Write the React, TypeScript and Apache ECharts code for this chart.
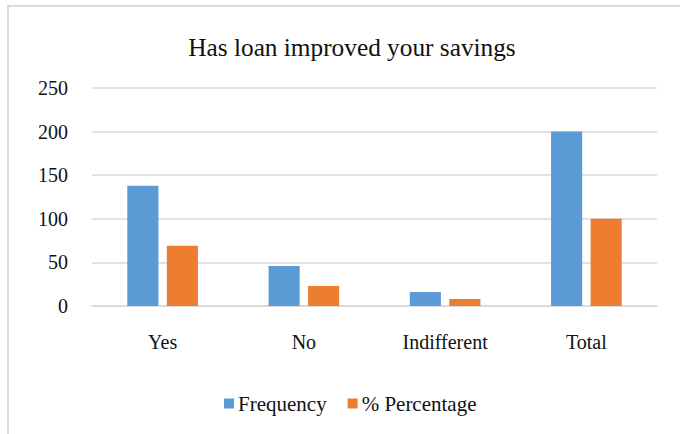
import React, { useEffect, useRef } from "react";
import * as echarts from "echarts";

const categories = ["Yes", "No", "Indifferent", "Total"];
const frequency = [138, 46, 16, 200];
const percentage = [69, 23, 8, 100];
const yTicks = { min: 0, max: 250, interval: 50 };

const FONT = "'Liberation Serif', 'Times New Roman', serif";

export default function App() {
  const ref = useRef<HTMLDivElement>(null);
  useEffect(() => {
    if (!ref.current) return;
    const chart = echarts.init(ref.current, undefined, { renderer: "svg" });
    chart.setOption({
      animation: false,
      backgroundColor: "#ffffff",
      title: {
        text: "Has loan improved your savings",
        left: 347,
        top: 29,
        textAlign: "center",
        textStyle: { fontFamily: FONT, fontSize: 25.3, fontWeight: "normal", color: "#111" },
      },
      graphic: [
        {
          type: "rect",
          shape: { x: 8, y: 6, width: 800, height: 800 },
          style: { fill: "none", stroke: "#d9d9d9", lineWidth: 2 },
          silent: true,
        },
      ],
      legend: {
        data: ["Frequency", "% Percentage"],
        left: 219,
        top: 388,
        itemWidth: 10,
        itemHeight: 10,
        itemGap: 21,
        icon: "rect",
        textStyle: { fontFamily: FONT, fontSize: 21, color: "#111", padding: [0, 0, 0, -1] },
      },
      grid: { left: 92, right: 23, top: 88, bottom: 128, containLabel: false },
      xAxis: {
        type: "category",
        data: categories,
        axisLine: { show: true, lineStyle: { color: "#d9d9d9", width: 1.5 } },
        axisTick: { show: false },
        axisLabel: { fontFamily: FONT, fontSize: 20, color: "#111", margin: 26 },
      },
      yAxis: {
        type: "value",
        min: yTicks.min,
        max: yTicks.max,
        interval: yTicks.interval,
        axisLine: { show: false },
        axisTick: { show: false },
        splitLine: { lineStyle: { color: "#d9d9d9", width: 1.5 } },
        axisLabel: { fontFamily: FONT, fontSize: 20, color: "#111", margin: 24 },
      },
      series: [
        {
          name: "Frequency",
          type: "bar",
          data: frequency,
          itemStyle: { color: "#5b9bd5" },
          barGap: "27%",
          barCategoryGap: "50%",
        },
        {
          name: "% Percentage",
          type: "bar",
          data: percentage,
          itemStyle: { color: "#ed7d31" },
          barGap: "27%",
          barCategoryGap: "50%",
        },
      ],
    });
    return () => chart.dispose();
  }, []);
  return (
    <div
      ref={ref}
      style={{ position: "fixed", left: 0, top: 0, width: 680, height: 434 }}
    />
  );
}
